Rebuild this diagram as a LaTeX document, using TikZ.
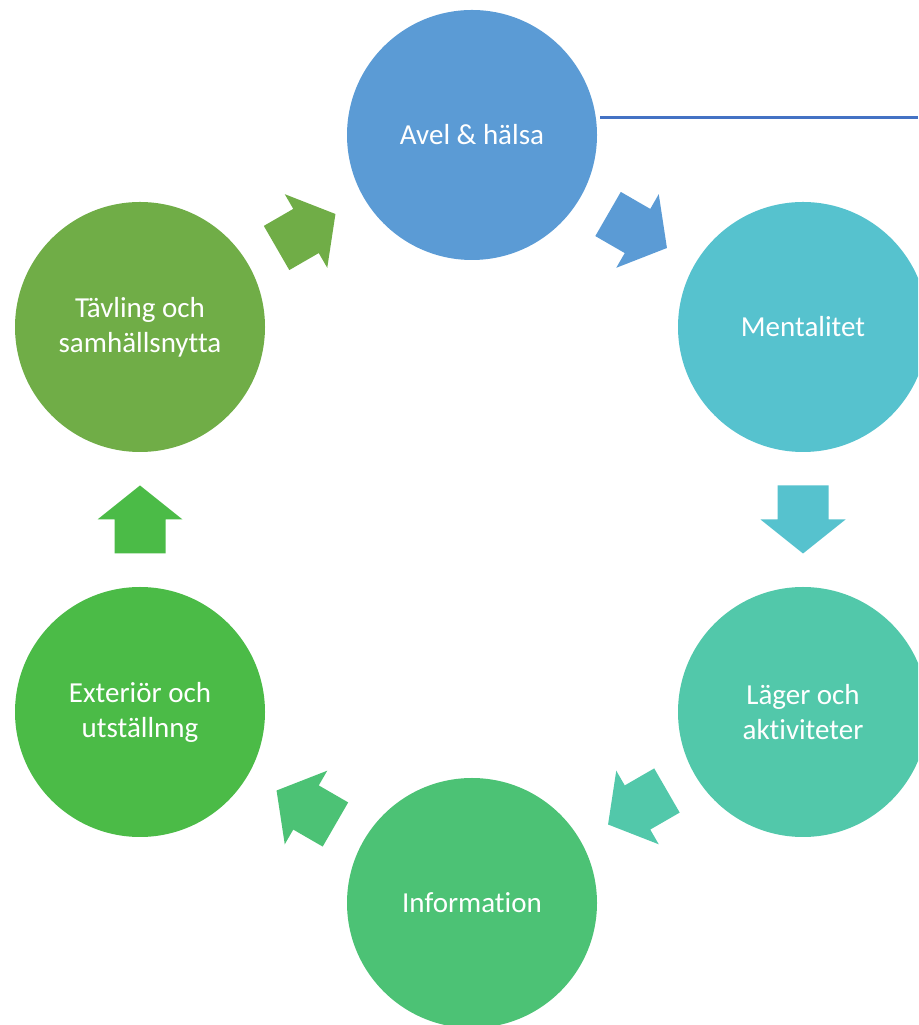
\documentclass[tikz,border=0pt]{standalone}
\usepackage{fontspec}
\setmainfont[Ligatures=NoCommon]{Carlito}
\usetikzlibrary{calc}
\definecolor{avelc}{HTML}{5B9BD5}
\definecolor{mentc}{HTML}{56C2CE}
\definecolor{lagerc}{HTML}{52C8AA}
\definecolor{infoc}{HTML}{4CC275}
\definecolor{extc}{HTML}{4BBB47}
\definecolor{tavc}{HTML}{70AD47}
\definecolor{linec}{HTML}{4472C4}
\begin{document}
\begin{tikzpicture}[x=1pt,y=1pt]
\tikzstyle{every node}=[circle,minimum size=250pt,inner sep=0pt,text=white,align=center,
  font=\fontsize{29}{35}\selectfont]
\tikzset{blockarrow/.pic={\fill (-34,-25.5) -- (0,-25.5) -- (0,-42.5) -- (34,0) -- (0,42.5) -- (0,25.5) -- (-34,25.5) -- cycle;}}
\useasboundingbox (0,0) rectangle (918,1025);
\clip (0,0) rectangle (918,1025);

\node[fill=avelc](avel) at (472,890) {Avel \& hälsa};
\node[fill=mentc](ment) at (803,698) {Mentalitet};
\node[fill=lagerc](lager) at (803,313) {Läger och\\aktiviteter};
\node[fill=infoc](info) at (472,122) {Information};
\node[fill=extc](ext) at (140,313) {Exteriör och\\utställnng};
\node[fill=tavc](tav) at (140,698) {Tävling och\\samhällsnytta};

\pic[fill=avelc,rotate=-30] at ($(avel)!0.5!(ment)$) {blockarrow};
\pic[fill=mentc,rotate=-90] at ($(ment)!0.5!(lager)$) {blockarrow};
\pic[fill=lagerc,rotate=-150] at ($(lager)!0.5!(info)$) {blockarrow};
\pic[fill=infoc,rotate=150] at ($(info)!0.5!(ext)$) {blockarrow};
\pic[fill=extc,rotate=90] at ($(ext)!0.5!(tav)$) {blockarrow};
\pic[fill=tavc,rotate=30] at ($(tav)!0.5!(avel)$) {blockarrow};

\coordinate (lineend) at (918,907);
\draw[linec,line width=3pt] (avel.east|-lineend) ++(3,0) -- (lineend);
\end{tikzpicture}
\end{document}
